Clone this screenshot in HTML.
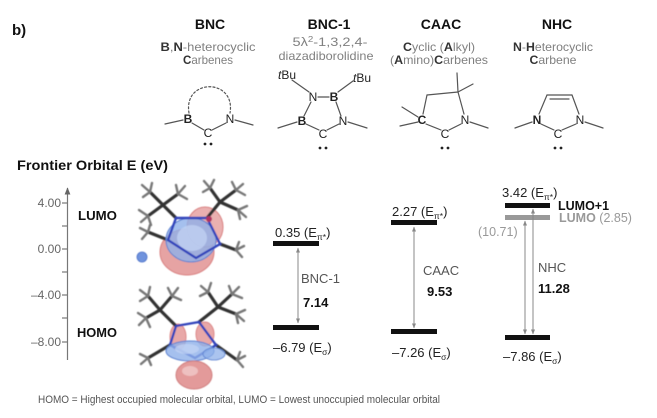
<!DOCTYPE html>
<html><head><meta charset="utf-8">
<style>
html,body{margin:0;padding:0;background:#fff;}
svg{display:block;}
text{font-family:"Liberation Sans",Arial,sans-serif;}
</style></head>
<body>
<svg width="657" height="418" viewBox="0 0 657 418" xmlns="http://www.w3.org/2000/svg">
<defs>
<filter id="soft" x="-10%" y="-10%" width="120%" height="120%"><feGaussianBlur stdDeviation="0.6"/></filter>
<marker id="ah" viewBox="0 0 10 10" refX="9" refY="5" markerWidth="5" markerHeight="5" orient="auto-start-reverse"><path d="M0,1 L10,5 L0,9 z" fill="#888"/></marker>
<marker id="ah2" viewBox="0 0 10 10" refX="9" refY="5" markerWidth="6" markerHeight="6" orient="auto-start-reverse"><path d="M0,1 L10,5 L0,9 z" fill="#666"/></marker>
</defs>
<rect width="657" height="418" fill="#fff"/>

<!-- b) -->
<text x="12" y="35" font-size="15" font-weight="bold" fill="#111">b)</text>

<!-- Headers -->
<g font-size="14" font-weight="bold" fill="#111" text-anchor="middle">
<text x="210" y="29">BNC</text>
<text x="329" y="29">BNC-1</text>
<text x="441" y="29">CAAC</text>
<text x="557" y="29">NHC</text>
</g>

<!-- Subtitles -->
<g font-size="12" fill="#808080" text-anchor="middle">
<text x="208" y="51" textLength="95" lengthAdjust="spacingAndGlyphs"><tspan fill="#333" font-weight="bold">B</tspan>,<tspan fill="#333" font-weight="bold">N</tspan>-heterocyclic</text>
<text x="208" y="64" textLength="50" lengthAdjust="spacingAndGlyphs"><tspan fill="#333" font-weight="bold">C</tspan>arbenes</text>
<text x="330" y="46" textLength="75" lengthAdjust="spacingAndGlyphs">5λ<tspan font-size="8" dy="-4">2</tspan><tspan dy="4">-1,3,2,4-</tspan></text>
<text x="326" y="60" textLength="95" lengthAdjust="spacingAndGlyphs">diazadiborolidine</text>
<text x="439" y="51" textLength="72" lengthAdjust="spacingAndGlyphs"><tspan fill="#333" font-weight="bold">C</tspan>yclic (<tspan fill="#333" font-weight="bold">A</tspan>lkyl)</text>
<text x="439" y="64" textLength="98" lengthAdjust="spacingAndGlyphs">(<tspan fill="#333" font-weight="bold">A</tspan>mino)<tspan fill="#333" font-weight="bold">C</tspan>arbenes</text>
<text x="553" y="51" textLength="80" lengthAdjust="spacingAndGlyphs"><tspan fill="#333" font-weight="bold">N</tspan>-<tspan fill="#333" font-weight="bold">H</tspan>eterocyclic</text>
<text x="553" y="64" textLength="47" lengthAdjust="spacingAndGlyphs"><tspan fill="#333" font-weight="bold">C</tspan>arbene</text>
</g>

<!-- Structures -->
<g stroke="#555" stroke-width="1.2" fill="none" stroke-linecap="round">
<!-- BNC -->
<line x1="165" y1="124" x2="183" y2="120"/>
<line x1="192" y1="123" x2="204" y2="130"/>
<line x1="212" y1="130" x2="226" y2="123"/>
<line x1="235" y1="120" x2="253" y2="125"/>
<path d="M189,113 C183,78 236,78 230,113" stroke-dasharray="2,2.2"/>
<!-- BNC-1 -->
<line x1="292" y1="80" x2="309" y2="92"/>
<line x1="318" y1="97" x2="329" y2="97"/>
<line x1="338" y1="92" x2="353" y2="81"/>
<line x1="311" y1="102" x2="304" y2="116"/>
<line x1="336" y1="102" x2="341" y2="116"/>
<line x1="306" y1="124" x2="319" y2="130"/>
<line x1="327" y1="130" x2="339" y2="124"/>
<line x1="278" y1="128" x2="297" y2="122"/>
<line x1="348" y1="122" x2="367" y2="128"/>
<!-- CAAC -->
<line x1="423" y1="114" x2="427" y2="95"/>
<line x1="427" y1="95" x2="458" y2="92"/>
<line x1="458" y1="92" x2="464" y2="114"/>
<line x1="426" y1="124" x2="441" y2="130"/>
<line x1="449" y1="130" x2="461" y2="124"/>
<line x1="458" y1="92" x2="457" y2="73"/>
<line x1="458" y1="92" x2="473" y2="84"/>
<line x1="418" y1="117" x2="402" y2="107"/>
<line x1="418" y1="122" x2="400" y2="126"/>
<line x1="470" y1="122" x2="488" y2="128"/>
<!-- NHC -->
<line x1="539" y1="114" x2="547" y2="95"/>
<line x1="547" y1="95" x2="572" y2="95"/>
<line x1="550" y1="99" x2="569" y2="99"/>
<line x1="572" y1="95" x2="579" y2="114"/>
<line x1="541" y1="124" x2="554" y2="130"/>
<line x1="562" y1="130" x2="576" y2="124"/>
<line x1="532" y1="122" x2="515" y2="128"/>
<line x1="585" y1="122" x2="603" y2="128"/>
</g>
<g font-size="12" fill="#222" text-anchor="middle">
<text x="188" y="123" font-weight="bold">B</text>
<text x="230" y="123">N</text>
<text x="208" y="137">C</text>
<text x="313" y="101">N</text>
<text x="334" y="101" font-weight="bold">B</text>
<text x="302" y="125" font-weight="bold">B</text>
<text x="343" y="125">N</text>
<text x="323" y="138">C</text>
<text x="287" y="79"><tspan font-style="italic">t</tspan>Bu</text>
<text x="362" y="82"><tspan font-style="italic">t</tspan>Bu</text>
<text x="422" y="124" font-weight="bold">C</text>
<text x="445" y="138">C</text>
<text x="465" y="124">N</text>
<text x="537" y="124" font-weight="bold">N</text>
<text x="580" y="124">N</text>
<text x="558" y="138">C</text>
</g>
<g fill="#222">
<circle cx="205" cy="144" r="1.4"/><circle cx="211" cy="144" r="1.4"/>
<circle cx="320" cy="148" r="1.4"/><circle cx="326" cy="148" r="1.4"/>
<circle cx="442" cy="148" r="1.4"/><circle cx="448" cy="148" r="1.4"/>
<circle cx="555" cy="148" r="1.4"/><circle cx="561" cy="148" r="1.4"/>
</g>

<!-- Frontier Orbital title -->
<text x="17" y="170" font-size="13.5" font-weight="bold" fill="#111" textLength="151" lengthAdjust="spacingAndGlyphs">Frontier Orbital E (eV)</text>

<!-- Axis -->
<g stroke="#777" stroke-width="1.2">
<line x1="67.5" y1="360" x2="67.5" y2="188" marker-end="url(#ah2)"/>
<line x1="62" y1="203" x2="67.5" y2="203"/>
<line x1="62" y1="226" x2="67.5" y2="226"/>
<line x1="62" y1="249" x2="67.5" y2="249"/>
<line x1="62" y1="272" x2="67.5" y2="272"/>
<line x1="62" y1="295" x2="67.5" y2="295"/>
<line x1="62" y1="318" x2="67.5" y2="318"/>
<line x1="62" y1="342" x2="67.5" y2="342"/>
</g>
<g font-size="12" fill="#666" text-anchor="end">
<text x="61" y="207">4.00</text>
<text x="61" y="253">0.00</text>
<text x="61" y="299">–4.00</text>
<text x="61" y="346">–8.00</text>
</g>
<g font-size="13" font-weight="bold" fill="#111">
<text x="78" y="220" textLength="39" lengthAdjust="spacingAndGlyphs">LUMO</text>
<text x="77" y="337" textLength="40" lengthAdjust="spacingAndGlyphs">HOMO</text>
</g>

<!-- LUMO orbital picture -->
<g filter="url(#soft)">
<ellipse cx="187" cy="252" rx="27" ry="23" fill="#e6a3a3" stroke="#d98080" stroke-width="1"/>
<ellipse cx="205" cy="227" rx="18" ry="20" fill="#eab0b0" stroke="#d98080" stroke-width="1"/>
<g stroke="#333" stroke-width="3.2" stroke-linecap="round">
<line x1="163" y1="205" x2="176" y2="218"/>
<line x1="163" y1="205" x2="150" y2="192"/>
<line x1="163" y1="205" x2="178" y2="194"/>
<line x1="163" y1="205" x2="148" y2="216"/>
<line x1="220" y1="202" x2="207" y2="218"/>
<line x1="220" y1="202" x2="210" y2="188"/>
<line x1="220" y1="202" x2="236" y2="190"/>
<line x1="220" y1="202" x2="238" y2="210"/>
<line x1="168" y1="240" x2="148" y2="232"/>
<line x1="220" y1="244" x2="236" y2="250"/>
</g>
<g stroke="#777" stroke-width="2.4" stroke-linecap="round">
<line x1="150" y1="192" x2="142" y2="185"/><line x1="150" y1="192" x2="152" y2="183"/><line x1="150" y1="192" x2="143" y2="197"/>
<line x1="178" y1="194" x2="185" y2="186"/><line x1="178" y1="194" x2="187" y2="199"/><line x1="178" y1="194" x2="176" y2="185"/>
<line x1="148" y1="216" x2="139" y2="210"/><line x1="148" y1="216" x2="141" y2="222"/><line x1="148" y1="216" x2="151" y2="225"/>
<line x1="210" y1="188" x2="204" y2="181"/><line x1="210" y1="188" x2="214" y2="180"/><line x1="210" y1="188" x2="203" y2="192"/>
<line x1="236" y1="190" x2="243" y2="184"/><line x1="236" y1="190" x2="245" y2="195"/><line x1="236" y1="190" x2="232" y2="182"/>
<line x1="238" y1="210" x2="247" y2="206"/><line x1="238" y1="210" x2="246" y2="217"/><line x1="238" y1="210" x2="240" y2="219"/>
<line x1="148" y1="232" x2="140" y2="228"/><line x1="148" y1="232" x2="142" y2="239"/><line x1="148" y1="232" x2="150" y2="225"/>
<line x1="236" y1="250" x2="244" y2="246"/><line x1="236" y1="250" x2="242" y2="257"/><line x1="236" y1="250" x2="239" y2="242"/>
</g>
<ellipse cx="191" cy="240" rx="25" ry="22" fill="#8fb0ea" fill-opacity="0.8" stroke="#5a80d0" stroke-width="1"/>
<ellipse cx="192" cy="238" rx="15" ry="13" fill="#c4d6f5" fill-opacity="0.7"/>
<g stroke="#3344bb" stroke-width="2.4" stroke-linecap="round" fill="none">
<path d="M176,218 L207,218 L220,244 L196,258 L168,240 Z"/>
</g>
<circle cx="209" cy="219" r="3" fill="#b03060"/>
<circle cx="142" cy="257" r="5" fill="#6f93dd" stroke="#4a70c8" stroke-width="0.8"/>
</g>

<!-- HOMO orbital picture -->
<g filter="url(#soft)">
<ellipse cx="178" cy="337" rx="8" ry="13" fill="#e8a8a8" stroke="#d88" stroke-width="1"/>
<ellipse cx="205" cy="334" rx="9" ry="12" fill="#e8a8a8" stroke="#d88" stroke-width="1"/>
<g stroke="#333" stroke-width="3.2" stroke-linecap="round">
<line x1="160" y1="310" x2="176" y2="326"/>
<line x1="160" y1="310" x2="148" y2="296"/>
<line x1="160" y1="310" x2="172" y2="296"/>
<line x1="160" y1="310" x2="146" y2="318"/>
<line x1="218" y1="307" x2="199" y2="322"/>
<line x1="218" y1="307" x2="208" y2="292"/>
<line x1="218" y1="307" x2="232" y2="294"/>
<line x1="218" y1="307" x2="236" y2="314"/>
<line x1="170" y1="345" x2="148" y2="358"/>
<line x1="216" y1="345" x2="237" y2="360"/>
</g>
<g stroke="#777" stroke-width="2.4" stroke-linecap="round">
<line x1="148" y1="296" x2="140" y2="290"/><line x1="148" y1="296" x2="150" y2="287"/><line x1="148" y1="296" x2="140" y2="301"/>
<line x1="172" y1="296" x2="178" y2="288"/><line x1="172" y1="296" x2="181" y2="300"/><line x1="172" y1="296" x2="168" y2="288"/>
<line x1="146" y1="318" x2="138" y2="313"/><line x1="146" y1="318" x2="139" y2="325"/><line x1="146" y1="318" x2="150" y2="327"/>
<line x1="208" y1="292" x2="201" y2="286"/><line x1="208" y1="292" x2="211" y2="283"/><line x1="208" y1="292" x2="200" y2="296"/>
<line x1="232" y1="294" x2="239" y2="287"/><line x1="232" y1="294" x2="242" y2="298"/><line x1="232" y1="294" x2="229" y2="286"/>
<line x1="236" y1="314" x2="245" y2="310"/><line x1="236" y1="314" x2="244" y2="321"/><line x1="236" y1="314" x2="238" y2="323"/>
<line x1="148" y1="358" x2="140" y2="354"/><line x1="148" y1="358" x2="141" y2="364"/><line x1="148" y1="358" x2="151" y2="365"/>
<line x1="237" y1="360" x2="245" y2="356"/><line x1="237" y1="360" x2="243" y2="367"/><line x1="237" y1="360" x2="240" y2="352"/>
</g>
<g stroke="#3344bb" stroke-width="2.4" stroke-linecap="round" fill="none">
<path d="M176,326 L199,322 L216,345 L195,358 L170,345 Z"/>
</g>
<ellipse cx="190" cy="351" rx="24" ry="10" fill="#8fb0ea" fill-opacity="0.8" stroke="#5a80d0" stroke-width="1"/>
<ellipse cx="214" cy="354" rx="11" ry="6" fill="#8fb0ea" fill-opacity="0.75" stroke="#5a80d0" stroke-width="0.8"/>
<ellipse cx="187" cy="349" rx="12" ry="5" fill="#c4d6f5" fill-opacity="0.7"/>
<ellipse cx="194" cy="375" rx="18" ry="14" fill="#e39a9a" stroke="#d08080" stroke-width="1"/>
<ellipse cx="190" cy="371" rx="8" ry="5" fill="#eec0c0"/>
</g>

<!-- Energy bars -->
<g fill="#111">
<rect x="273" y="241" width="46" height="5"/>
<rect x="273" y="325" width="46" height="5"/>
<rect x="391" y="220" width="46" height="5"/>
<rect x="391" y="329" width="46" height="5"/>
<rect x="505" y="203" width="45" height="5"/>
<rect x="505" y="335" width="45" height="5"/>
</g>
<rect x="505" y="215" width="45" height="5" fill="#999"/>

<!-- Arrows -->
<g stroke="#888" stroke-width="1" fill="none">
<line x1="298" y1="248" x2="298" y2="323" marker-start="url(#ah)" marker-end="url(#ah)"/>
<line x1="414" y1="227" x2="414" y2="328" marker-start="url(#ah)" marker-end="url(#ah)"/>
<line x1="525" y1="221" x2="525" y2="334" marker-start="url(#ah)" marker-end="url(#ah)"/>
<line x1="533" y1="209" x2="533" y2="334" marker-start="url(#ah)" marker-end="url(#ah)"/>
</g>

<!-- Energy labels -->
<g font-size="13" fill="#222">
<text x="275" y="237">0.35 (E<tspan font-size="8.5" dy="3">π*</tspan><tspan dy="-3">)</tspan></text>
<text x="273" y="352">–6.79 (E<tspan font-size="8.5" dy="3">σ</tspan><tspan dy="-3">)</tspan></text>
<text x="301" y="283" fill="#555">BNC-1</text>
<text x="303" y="307" font-weight="bold" fill="#111">7.14</text>

<text x="392" y="216">2.27 (E<tspan font-size="8.5" dy="3">π*</tspan><tspan dy="-3">)</tspan></text>
<text x="392" y="357">–7.26 (E<tspan font-size="8.5" dy="3">σ</tspan><tspan dy="-3">)</tspan></text>
<text x="423" y="275" fill="#555">CAAC</text>
<text x="427" y="296" font-weight="bold" fill="#111">9.53</text>

<text x="502" y="197">3.42 (E<tspan font-size="8.5" dy="3">π*</tspan><tspan dy="-3">)</tspan></text>
<text x="503" y="361">–7.86 (E<tspan font-size="8.5" dy="3">σ</tspan><tspan dy="-3">)</tspan></text>
<text x="558" y="210" font-weight="bold" fill="#111" font-size="12.5">LUMO+1</text>
<text x="559" y="222" fill="#999" font-size="12.5"><tspan font-weight="bold">LUMO</tspan> (2.85)</text>
<text x="478" y="236" fill="#999" font-size="12.5">(10.71)</text>
<text x="538" y="272" fill="#555">NHC</text>
<text x="538" y="293" font-weight="bold" fill="#111">11.28</text>
</g>

<!-- Footer -->
<text x="38" y="403" font-size="11" fill="#555" textLength="402" lengthAdjust="spacingAndGlyphs">HOMO = Highest occupied molecular orbital, LUMO = Lowest unoccupied molecular orbital</text>
</svg>
</body></html>
